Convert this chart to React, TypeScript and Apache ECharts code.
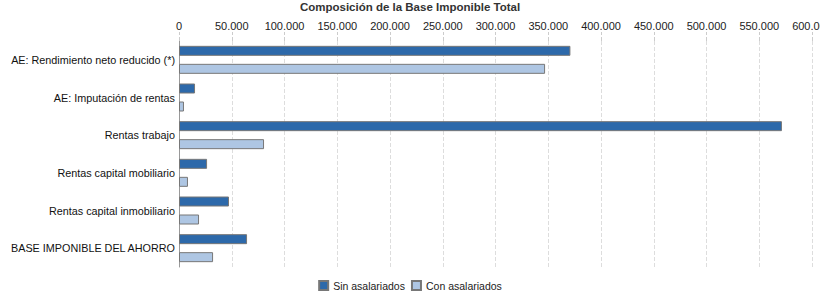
import React, { useEffect, useRef } from "react";
import * as echarts from "echarts";

const categories = [
  "AE: Rendimiento neto reducido (*)",
  "AE: Imputación de rentas",
  "Rentas trabajo",
  "Rentas capital mobiliario",
  "Rentas capital inmobiliario",
  "BASE IMPONIBLE DEL AHORRO",
];
const sinAsalariados = [371000, 15200, 571500, 26600, 47400, 64500];
const conAsalariados = [347000, 4700, 80600, 8500, 19000, 32300];
const seriesNames = ["Sin asalariados", "Con asalariados"];
const titleText = "Composición de la Base Imponible Total";

const fmt = (v: number) => String(Math.round(v)).replace(/\B(?=(\d{3})+(?!\d))/g, ".");

export default function App() {
  const ref = useRef<HTMLDivElement>(null);
  useEffect(() => {
    if (!ref.current) return;
    const chart = echarts.init(ref.current, undefined, { renderer: "svg" });
    const font = "'Liberation Sans', Arial, sans-serif";
    chart.setOption({
      animation: false,
      textStyle: { fontFamily: font },
      title: {
        text: titleText,
        left: "center",
        top: -4,
        textStyle: { fontSize: 11.5, fontWeight: "bold", color: "#333", fontFamily: font },
      },
      legend: {
        bottom: 4,
        left: "center",
        itemWidth: 9,
        itemHeight: 9,
        itemGap: 6,
        icon: "rect",
        textStyle: { fontSize: 10.5, color: "#222", fontFamily: font },
        data: seriesNames,
      },
      grid: {
        left: 179,
        right: 8,
        top: 41,
        bottom: 33,
        containLabel: false,
        outerBoundsMode: "none",
      },
      xAxis: {
        type: "value",
        position: "top",
        min: 0,
        max: 600000,
        interval: 50000,
        axisLine: { show: false },
        axisTick: { show: true, length: 9, lineStyle: { color: "#ccc", type: "dashed" } },
        axisLabel: { fontSize: 11, color: "#222", margin: 10, formatter: fmt },
        splitLine: { show: true, lineStyle: { color: "#ddd", type: "dashed" } },
      },
      yAxis: {
        type: "category",
        data: categories,
        inverse: true,
        axisLine: { show: true, lineStyle: { color: "#999" } },
        axisTick: { show: false },
        axisLabel: { fontSize: 10.8, color: "#111", margin: 4 },
      },
      series: [
        {
          name: seriesNames[0],
          type: "bar",
          data: sinAsalariados,
          barWidth: 10,
          barGap: "80%",
          itemStyle: { color: "#2D69AA", borderColor: "#777", borderWidth: 1 },
        },
        {
          name: seriesNames[1],
          type: "bar",
          data: conAsalariados,
          barWidth: 10,
          barGap: "80%",
          itemStyle: { color: "#AEC6E3", borderColor: "#777", borderWidth: 1 },
        },
      ],
    });
    return () => chart.dispose();
  }, []);
  return (
    <div
      ref={ref}
      style={{ position: "absolute", left: 0, top: 0, width: 820, height: 300 }}
    />
  );
}
